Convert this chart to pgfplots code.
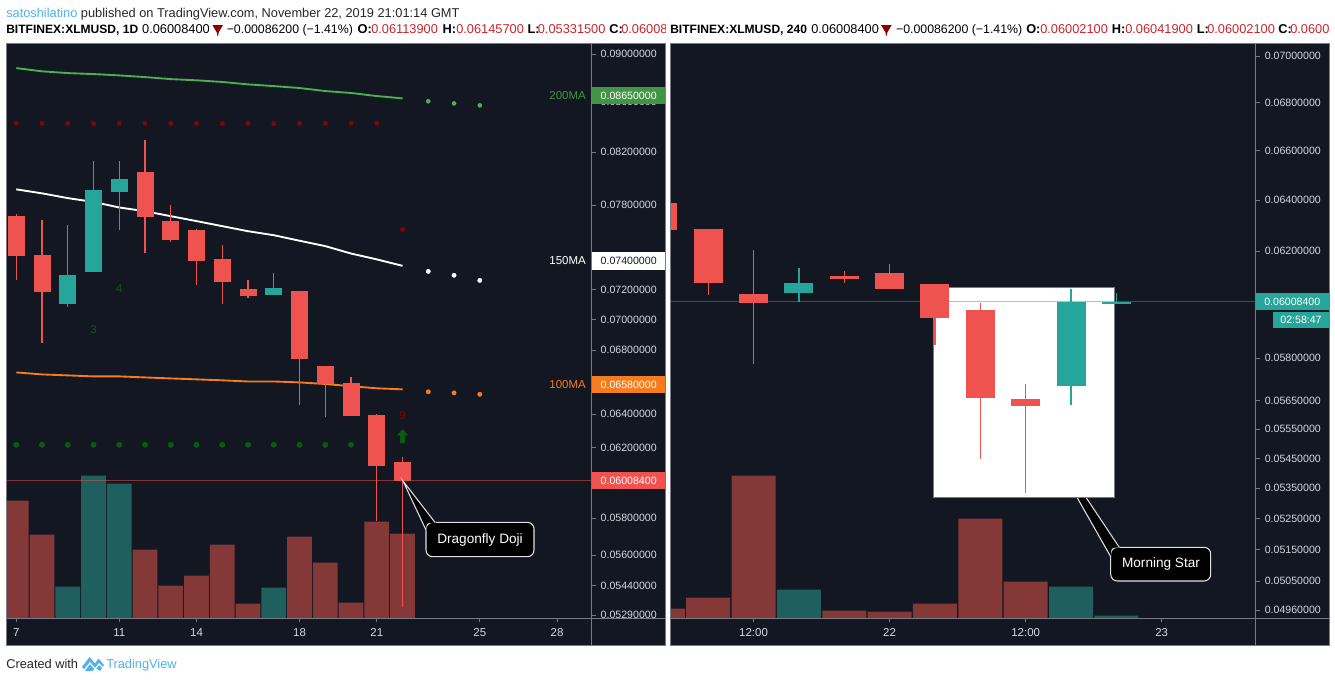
\documentclass[border=0pt]{standalone}
\usepackage{pgfplots}
\pgfplotsset{compat=1.18}
\usepackage{fontspec}
\setmainfont{Liberation Sans}
\definecolor{bg}{HTML}{131722}
\definecolor{edge}{HTML}{787B86}
\definecolor{cR}{HTML}{EF5350}
\definecolor{cG}{HTML}{26A69A}
\definecolor{vR}{HTML}{843838}
\definecolor{vG}{HTML}{1F5F5D}
\definecolor{maG}{HTML}{4CAF50}
\definecolor{maO}{HTML}{F57C1F}
\definecolor{dkR}{HTML}{8B0000}
\definecolor{dkG}{HTML}{0A5A12}
\definecolor{tickc}{HTML}{D6D8DE}
\definecolor{hdrR}{HTML}{C9252B}
\definecolor{tvB}{HTML}{4FB3E8}
\newcommand\tickfont{\fontsize{7.95pt}{9pt}\selectfont}
\newcommand\xtickfont{\fontsize{8.6pt}{10pt}\selectfont}
\newcommand\hdrfont{\fontsize{9.6pt}{11pt}\selectfont}
\newcommand\chgfont{\fontsize{9.25pt}{11pt}\selectfont}
\newcommand\calloutfont{\fontsize{10.2pt}{12pt}\selectfont}
\pgfdeclareplotmark{uparrow}{%
  \pgfpathmoveto{\pgfqpoint{0pt}{5.2pt}}%
  \pgfpathlineto{\pgfqpoint{4.2pt}{0.6pt}}%
  \pgfpathlineto{\pgfqpoint{1.9pt}{0.6pt}}%
  \pgfpathlineto{\pgfqpoint{1.9pt}{-5.2pt}}%
  \pgfpathlineto{\pgfqpoint{-1.9pt}{-5.2pt}}%
  \pgfpathlineto{\pgfqpoint{-1.9pt}{0.6pt}}%
  \pgfpathlineto{\pgfqpoint{-4.2pt}{0.6pt}}%
  \pgfpathclose\pgfusepathqfill}
\pgfplotsset{
  priceax/.style={
    scale only axis, height=431.25pt,
    clip=true,
    axis line style={draw=none},
    tick align=outside, xtick pos=bottom, ytick pos=right,
    major tick length=3pt, tick style={color=edge, line width=0.6pt},
    yticklabel pos=right,
    yticklabel style={anchor=west, inner sep=0pt, xshift=3.7pt, text=tickc, font=\tickfont},
    xticklabel style={anchor=north, inner sep=0pt, yshift=-5pt, text=tickc, font=\xtickfont},
    unbounded coords=jump,
  },
  volax/.style={
    scale only axis, height=431.25pt, hide axis, ymin=0, ymax=575, clip=true,
    ybar, bar shift=0pt,
  },
  wickR/.style={draw=cR, line width=1pt, no markers, line cap=butt},
  wickG/.style={draw=cG, line width=1pt, no markers, line cap=butt},
  dotm/.style={only marks, mark=*, mark size=#1},
}
\begin{document}
\begin{tikzpicture}
\begin{scope}[x=0.75pt,y=-0.75pt]
  \path[use as bounding box] (0,0) rectangle (1335,682);
  \fill[white] (0,0) rectangle (1335,682);
  % header
  \node[anchor=base west,inner sep=0,font=\hdrfont] at (6,17) {\textcolor{tvB}{satoshilatino} \textcolor{black!85}{published on TradingView.com, November 22, 2019 21:01:14 GMT}};
  \begin{scope}
    \clip (0,20) rectangle (665,40);
    \node[anchor=base west,inner sep=0,font=\fontsize{9.05pt}{11pt}\selectfont\bfseries] at (6,33.5) {BITFINEX:XLMUSD, 1D};
    \node[anchor=base west,inner sep=0,font=\hdrfont] at (141.9,33.5) {0.06008400};
    \fill[dkR] (212.4,25)--(223,25)--(218.6,32.5)--(218.2,35.7)--(217.2,35.7)--(216.8,32.5)--cycle;
    \node[anchor=base west,inner sep=0,font=\chgfont] at (226.5,33.5) {−0.00086200 (−1.41\%)};
    \node[anchor=base west,inner sep=0,font=\hdrfont\bfseries] at (357.3,33.5) {O:};
    \node[anchor=base west,inner sep=0,font=\hdrfont,text=hdrR] at (371,33.5) {0.06113900};
    \node[anchor=base west,inner sep=0,font=\hdrfont\bfseries] at (442.3,33.5) {H:};
    \node[anchor=base west,inner sep=0,font=\hdrfont,text=hdrR] at (456,33.5) {0.06145700};
    \node[anchor=base west,inner sep=0,font=\hdrfont\bfseries] at (527.4,33.5) {L:};
    \node[anchor=base west,inner sep=0,font=\hdrfont,text=hdrR] at (537.6,33.5) {0.05331500};
    \node[anchor=base west,inner sep=0,font=\hdrfont\bfseries] at (609,33.5) {C:};
    \node[anchor=base west,inner sep=0,font=\hdrfont,text=hdrR] at (621,33.5) {0.06008400};
  \end{scope}
  \begin{scope}
    \clip (668,20) rectangle (1329,40);
    \node[anchor=base west,inner sep=0,font=\fontsize{9.05pt}{11pt}\selectfont\bfseries] at (670,33.5) {BITFINEX:XLMUSD, 240};
    \node[anchor=base west,inner sep=0,font=\hdrfont] at (811,33.5) {0.06008400};
    \fill[dkR] (881,25)--(891.7,25)--(887.3,32.5)--(886.9,35.7)--(885.9,35.7)--(885.5,32.5)--cycle;
    \node[anchor=base west,inner sep=0,font=\chgfont] at (895.8,33.5) {−0.00086200 (−1.41\%)};
    \node[anchor=base west,inner sep=0,font=\hdrfont\bfseries] at (1026,33.5) {O:};
    \node[anchor=base west,inner sep=0,font=\hdrfont,text=hdrR] at (1040,33.5) {0.06002100};
    \node[anchor=base west,inner sep=0,font=\hdrfont\bfseries] at (1111.6,33.5) {H:};
    \node[anchor=base west,inner sep=0,font=\hdrfont,text=hdrR] at (1125,33.5) {0.06041900};
    \node[anchor=base west,inner sep=0,font=\hdrfont\bfseries] at (1196.6,33.5) {L:};
    \node[anchor=base west,inner sep=0,font=\hdrfont,text=hdrR] at (1207,33.5) {0.06002100};
    \node[anchor=base west,inner sep=0,font=\hdrfont\bfseries] at (1278,33.5) {C:};
    \node[anchor=base west,inner sep=0,font=\hdrfont,text=hdrR] at (1290,33.5) {0.06008400};
  \end{scope}
  % panels
  \fill[bg] (6.3,43) rectangle (665,645);
  \fill[bg] (670,43) rectangle (1329,645);
\end{scope}
%%% LEFT volume
\begin{axis}[volax, at={(4.725pt,-463.5pt)}, anchor=south west, width=438.9pt,
  xmin=6.612, xmax=29.338, bar width=18.5pt]
\addplot[fill=vR,draw=none] coordinates {(7,117.3)(8,83.3)(12,68.3)(13,32.3)(14,42.3)(15,73.3)(16,14.3)(18,81.3)(19,55.3)(20,15.3)(21,96.3)(22,84.3)};
\addplot[fill=vG,draw=none] coordinates {(9,31.3)(10,142.3)(11,134.3)(17,30.3)};
\end{axis}
%%% RIGHT volume
\begin{axis}[volax, at={(502.5pt,-463.5pt)}, anchor=south west, width=439.2pt,
  xmin=1.158, xmax=14.07, bar width=33pt]
\addplot[fill=vR,draw=none] coordinates {(1,9.3)(2,20.3)(3,142.3)(5,7.3)(6,6.3)(7,14.3)(8,99.3)(9,36.3)};
\addplot[fill=vG,draw=none] coordinates {(4,28.3)(10,31.3)(11,2.3)};
\end{axis}
\begin{scope}[x=0.75pt,y=-0.75pt]
  \draw[edge,line width=0.7pt,fill=white] (933.4,287.3) rectangle (1114.6,497.3);
\end{scope}
%%% LEFT prices
\begin{axis}[ymode=log, log basis y=10, priceax, at={(4.725pt,-463.5pt)}, anchor=south west, width=438.9pt,
  xmin=6.612, xmax=29.338, ymin=0.05276, ymax=0.09094,
  xtick={7,11,14,18,21,25,28}, xticklabels={7,11,14,18,21,25,28},
  ytick={0.09,0.086,0.082,0.078,0.072,0.07,0.068,0.064,0.062,0.058,0.056,0.0544,0.0529},
  minor ytick={},
  yticklabels={0.09000000,0.08600000,0.08200000,0.07800000,0.07200000,0.07000000,0.06800000,0.06400000,0.06200000,0.05800000,0.05600000,0.05440000,0.05290000}]
% price line
\addplot[draw=cR,opacity=0.5,line width=0.6pt,no markers] coordinates {(6.612,0.060084)(29.338,0.060084)};
% moving averages
\addplot[draw=maG,line width=1.4pt,no markers] coordinates {(7,0.08881)(8,0.08854)(9,0.08839)(10,0.08831)(11,0.08820)(12,0.08806)(13,0.08789)(14,0.08779)(15,0.08765)(16,0.08745)(17,0.08731)(18,0.08715)(19,0.08690)(20,0.08674)(21,0.08649)(22,0.08630)};
\addplot[draw=white,line width=1.4pt,no markers] coordinates {(7,0.07918)(8,0.07888)(9,0.07853)(10,0.07825)(11,0.07784)(12,0.07757)(13,0.07720)(14,0.07684)(15,0.07647)(16,0.07611)(17,0.07582)(18,0.07542)(19,0.07504)(20,0.07452)(21,0.07410)(22,0.07365)};
\addplot[draw=maO,line width=1.4pt,no markers] coordinates {(7,0.06658)(8,0.06645)(9,0.06639)(10,0.06633)(11,0.06633)(12,0.06626)(13,0.06620)(14,0.06614)(15,0.06608)(16,0.06601)(17,0.06601)(18,0.06595)(19,0.06585)(20,0.06572)(21,0.06558)(22,0.06552)};
\addplot[dotm=1.5pt,color=maG] coordinates {(23,0.08606)(24,0.08589)(25,0.08573)};
\addplot[dotm=1.6pt,color=white] coordinates {(23,0.07326)(24,0.07299)(25,0.07264)};
\addplot[dotm=1.6pt,color=maO] coordinates {(23,0.06537)(24,0.06530)(25,0.06521)};
\addplot[dotm=1.6pt,color=dkR] coordinates {(7,0.08428)(8,0.08428)(9,0.08428)(10,0.08428)(11,0.08428)(12,0.08428)(13,0.08428)(14,0.08428)(15,0.08428)(16,0.08428)(17,0.08428)(18,0.08428)(19,0.08428)(20,0.08428)(21,0.08428)(22,0.07623)};
\addplot[dotm=2pt,color=dkG] coordinates {(7,0.06217)(8,0.06217)(9,0.06217)(10,0.06217)(11,0.06217)(12,0.06217)(13,0.06217)(14,0.06217)(15,0.06217)(16,0.06217)(17,0.06217)(18,0.06217)(19,0.06217)(20,0.06217)};
\addplot[only marks,mark=uparrow,color=dkG] coordinates {(22,0.06268)};
% wicks
\addplot[wickR] coordinates {(7,0.07266)(7,0.07732)(7,nan)(8,0.06845)(8,0.07691)(8,nan)(12,0.07456)(12,0.08296)(12,nan)(13,0.07537)(13,0.07801)(13,nan)(14,0.07232)(14,0.07628)(14,nan)(15,0.07103)(15,0.07511)(15,nan)(16,0.07143)(16,0.07266)(16,nan)(18,0.06455)(18,0.07191)(18,nan)(19,0.06380)(19,0.06698)(19,nan)(20,0.06388)(20,0.06628)(20,nan)(21,0.05783)(21,0.06400)(21,nan)(22,0.053315)(22,0.061457)};
\addplot[wickG] coordinates {(9,0.07085)(9,0.07655)(9,nan)(10,0.07321)(10,0.08133)(10,nan)(11,0.07618)(11,0.08133)(11,nan)(17,0.07164)(17,0.07314)};
% bodies
\addplot[draw=cR,line width=12.75pt,no markers,line cap=butt] coordinates {(7,0.07433)(7,0.07718)(7,nan)(8,0.07184)(8,0.07440)(8,nan)(12,0.07713)(12,0.08048)(12,nan)(13,0.07547)(13,0.07684)(13,nan)(14,0.07398)(14,0.07618)(14,nan)(15,0.07252)(15,0.07412)(15,nan)(16,0.07157)(16,0.07204)(16,nan)(18,0.06742)(18,0.07191)(18,nan)(19,0.06583)(19,0.06698)(19,nan)(20,0.06388)(20,0.06589)(20,nan)(21,0.06093)(21,0.06392)(21,nan)(22,0.060084)(22,0.061139)};
\addplot[draw=cG,line width=12.75pt,no markers,line cap=butt] coordinates {(9,0.07103)(9,0.07300)(9,nan)(10,0.07321)(10,0.07912)(10,nan)(11,0.07900)(11,0.07995)(11,nan)(17,0.07164)(17,0.07211)};
\node[text=dkG,font=\fontsize{8.5pt}{10pt}\selectfont,inner sep=0] at (axis cs:11,0.07206) {4};
\node[text=dkG,font=\fontsize{8.5pt}{10pt}\selectfont,inner sep=0] at (axis cs:10,0.0693) {3};
\node[text=dkR,font=\fontsize{8.5pt}{10pt}\selectfont,inner sep=0] at (axis cs:22,0.06394) {9};
\end{axis}
%%% RIGHT prices
\begin{axis}[ymode=log, log basis y=10, priceax, at={(502.5pt,-463.5pt)}, anchor=south west, width=439.2pt,
  xmin=1.158, xmax=14.07, ymin=0.04935, ymax=0.07057,
  xtick={3,6,9,12}, xticklabels={12:00,22,12:00,23},
  ytick={0.07,0.068,0.066,0.064,0.062,0.058,0.0565,0.0555,0.0545,0.0535,0.0525,0.0515,0.0505,0.0496},
  minor ytick={},
  yticklabels={0.07000000,0.06800000,0.06600000,0.06400000,0.06200000,0.05800000,0.05650000,0.05550000,0.05450000,0.05350000,0.05250000,0.05150000,0.05050000,0.04960000}]
\addplot[wickR] coordinates {(2,0.06033)(2,0.06286)(2,nan)(3,0.05780)(3,0.06204)(3,nan)(5,0.06078)(5,0.06124)(5,nan)(6,0.06056)(6,0.06151)(6,nan)(7,0.05848)(7,0.06075)(7,nan)(8,0.05448)(8,0.06003)(8,nan)(9,0.05334)(9,0.05708)};
\addplot[wickG] coordinates {(4,0.06007)(4,0.06135)(4,nan)(10,0.05634)(10,0.06056)(10,nan)(11,0.060021)(11,0.060419)};
\addplot[draw=cR,line width=21.75pt,no markers,line cap=butt] coordinates {(1,0.06282)(1,0.06390)(1,nan)(2,0.06078)(2,0.06286)(2,nan)(3,0.06003)(3,0.06037)(3,nan)(5,0.06094)(5,0.06105)(5,nan)(6,0.06056)(6,0.06116)(6,nan)(7,0.05948)(7,0.06075)(7,nan)(8,0.05660)(8,0.05977)(8,nan)(9,0.05631)(9,0.05655)};
\addplot[draw=cG,line width=21.75pt,no markers,line cap=butt] coordinates {(4,0.06041)(4,0.06078)(4,nan)(10,0.05702)(10,0.06008)(10,nan)(11,0.060000)(11,0.060084)};
\addplot[draw=cG,opacity=0.5,line width=0.6pt,no markers] coordinates {(1.158,0.060084)(14.07,0.060084)};
\end{axis}
\begin{scope}[x=0.75pt,y=-0.75pt]
  % panel frames
  \fill[bg] (592,618.4) rectangle (665,623);
  \draw[edge,line width=0.75pt] (6.3,43) rectangle (665,645);
  \draw[edge,line width=0.75pt] (670,43) rectangle (1329,645);
  \draw[edge,line width=0.7pt] (591.5,43)--(591.5,645) (6.3,618)--(665,618);
  \draw[edge,line width=0.7pt] (1255.6,43)--(1255.6,645) (670,618)--(1329,618);
  % price boxes left
  \fill[maG!85!black] (592,87) rectangle (665,104);
  \fill[white] (592,252) rectangle (665,270);
  \fill[maO] (592,376) rectangle (665,393);
  \fill[cR] (592,472.3) rectangle (665,489);
  \node[text=white,font=\tickfont,anchor=west,inner sep=0] at (600.4,95.5) {0.08650000};
  \node[text=bg,font=\tickfont,anchor=west,inner sep=0] at (600.4,261) {0.07400000};
  \node[text=white,font=\tickfont,anchor=west,inner sep=0] at (600.4,384.5) {0.06580000};
  \node[text=white,font=\tickfont,anchor=west,inner sep=0] at (600.4,480.5) {0.06008400};
  \node[text=maG!85!black,font=\xtickfont,anchor=east,inner sep=0] at (586,95.5) {200MA};
  \node[text=white,font=\xtickfont,anchor=east,inner sep=0] at (586,261) {150MA};
  \node[text=maO,font=\xtickfont,anchor=east,inner sep=0] at (586,384.5) {100MA};
  % price boxes right
  \fill[cG] (1256,293) rectangle (1329,310);
  \fill[cG] (1273,312) rectangle (1329,328);
  \node[text=white,font=\tickfont,anchor=west,inner sep=0] at (1264,301.5) {0.06008400};
  \node[text=white,font=\tickfont,anchor=center,inner sep=0] at (1301,320) {02:58:47};
  % callouts
  \draw[white!88!black,line width=0.8pt,fill=black,rounded corners=5] (426,522.3) rectangle (534,556.7);
  \fill[black] (403,481)--(426.4,531)--(426.4,523)--(436,522.7)--cycle;
  \draw[white!88!black,line width=0.8pt] (426,530)--(403,481)--(435,522.3);
  \node[text=white,font=\calloutfont,inner sep=0] at (480,539.5) {Dragonfly Doji};
  \draw[white!88!black,line width=0.8pt,fill=black,rounded corners=5] (1110.7,547.3) rectangle (1210.7,581);
  \fill[black] (1077.4,498)--(1086.4,498)--(1119.8,547.7)--(1111.1,547.7)--(1111.1,557)--cycle;
  \draw[white!88!black,line width=0.8pt] (1110.7,556.7)--(1077.4,498) (1086.4,498)--(1119.3,547.3);
  \node[text=white,font=\calloutfont,inner sep=0] at (1161,564) {Morning Star};
  % footer
  \node[anchor=base west,inner sep=0,font=\hdrfont,text=black!85] at (6,668.5) {Created with};
  \fill[tvB] (82,667)--(89.5,657)--(95,663.5)--(98.5,658.5)--(104,665)--(100,671)--(95.5,668)--(92,671)--(86,671)--cycle;
  \draw[white,line width=0.9pt] (84,670.5)--(90,663)--(95,669)--(99,664)--(103,668);
  \node[anchor=base west,inner sep=0,font=\hdrfont,text=tvB] at (106,668.5) {TradingView};
\end{scope}
\end{tikzpicture}
\end{document}
